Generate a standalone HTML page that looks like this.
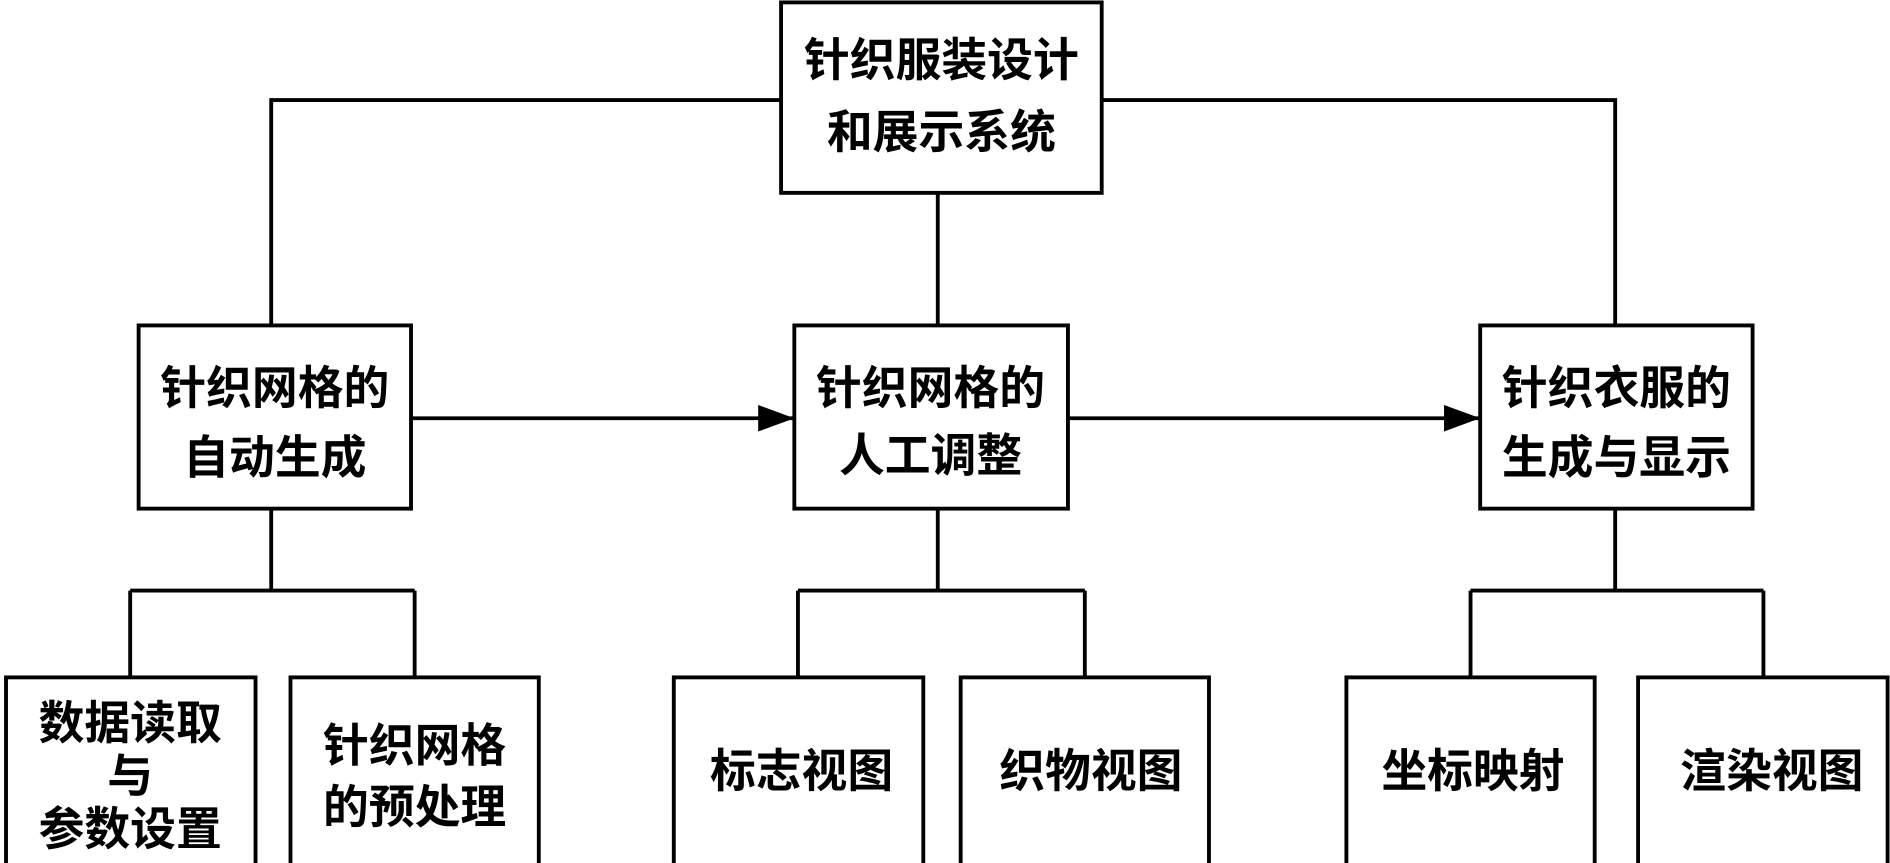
<!DOCTYPE html>
<html><head><meta charset="utf-8"><style>
html,body{margin:0;padding:0;background:#fff;}
svg{display:block;}
text{font-family:"Liberation Sans","Noto Sans CJK SC",sans-serif;font-size:38px;font-weight:bold;fill:#000;text-anchor:middle;}
</style></head><body>
<svg width="1890" height="863" viewBox="0 0 1568 716" preserveAspectRatio="none" xmlns="http://www.w3.org/2000/svg">
<defs>
<marker id="b" markerWidth="30" markerHeight="22" refX="30" refY="11" orient="auto" markerUnits="userSpaceOnUse"><path d="M0,0 L30,11 L0,22 z" fill="#000"/></marker></defs>
<g stroke="#000" stroke-width="3.2" fill="none">
<path d="M648,83 H225 V270 M914,83 H1340 V270 M778,160 V270"/>
<path d="M225,422 V490 M108,490 H344 M108,490 V562 M344,490 V562"/>
<path d="M778,422 V490 M662,490 H900 M662,490 V562 M900,490 V562"/>
<path d="M1340,422 V490 M1220,490 H1463 M1220,490 V562 M1463,490 V562"/>
<line x1="341" y1="347" x2="659" y2="347" marker-end="url(#b)"/>
<line x1="886" y1="347" x2="1228" y2="347" marker-end="url(#b)"/>
<rect x="648" y="2" width="266" height="158"/>
<rect x="115" y="270" width="226" height="152"/>
<rect x="659" y="270" width="227" height="152"/>
<rect x="1228" y="270" width="226" height="152"/>
<rect x="5" y="562" width="207" height="160"/>
<rect x="241" y="562" width="206" height="160"/>
<rect x="559" y="562" width="207" height="160"/>
<rect x="797" y="562" width="206" height="160"/>
<rect x="1117" y="562" width="206" height="160"/>
<rect x="1359" y="562" width="207" height="160"/>
</g>
<text x="781" y="63">针织服装设计</text>
<text x="781" y="123">和展示系统</text>
<text x="228" y="335">针织网格的</text>
<text x="228" y="393">自动生成</text>
<text x="772" y="335">针织网格的</text>
<text x="772" y="391">人工调整</text>
<text x="1341" y="335">针织衣服的</text>
<text x="1341" y="393">生成与显示</text>
<text x="108" y="613">数据读取</text>
<text x="108" y="657">与</text>
<text x="108" y="701">参数设置</text>
<text x="344" y="632">针织网格</text>
<text x="344" y="683">的预处理</text>
<text x="665" y="653">标志视图</text>
<text x="905" y="653">织物视图</text>
<text x="1222" y="653">坐标映射</text>
<text x="1470" y="653">渲染视图</text>
</svg>
</body></html>
